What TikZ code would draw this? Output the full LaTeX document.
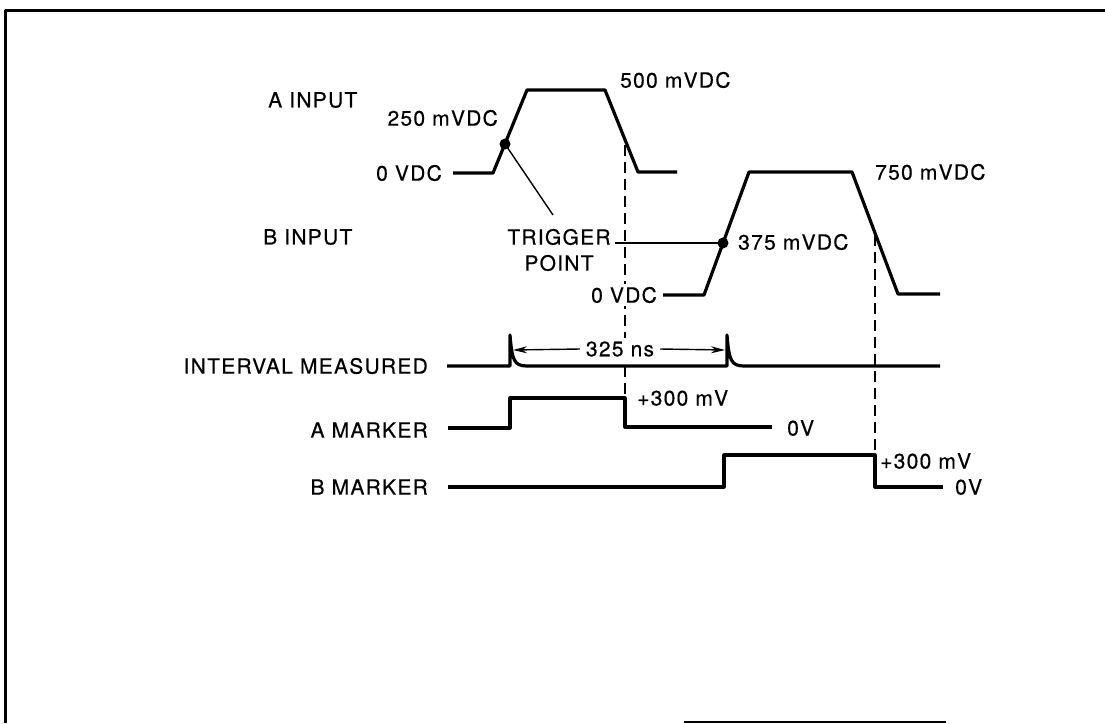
\documentclass[tikz,border=0pt]{standalone}
\usepackage{fontspec}
\setmainfont{TeX Gyre Heros}[LetterSpace=6,FakeBold=0.5]
\usetikzlibrary{arrows.meta}
\tikzset{
	wave/.style={line width=3.2pt},
	lead/.style={line width=1.4pt},
	timing/.style={line width=1.7pt,dash pattern=on 11pt off 6pt},
	lbl/.style={inner sep=0pt}
}
\begin{document}
\begin{tikzpicture}[x=1pt,y=-1pt,line join=round,>={Stealth[length=14pt,width=7pt]},font=\fontsize{21}{26}\selectfont]
	\useasboundingbox (0,0) rectangle (1105,723);
	% frame
	\draw[line width=3pt] (1105,10)--(5,10)--(5,723);
	\draw[line width=2pt] (684,722)--(946,722);
	% A input
	\coordinate (a0) at (453,173);
	\coordinate (a1) at (493,173);
	\coordinate (a2) at (527,90);
	\coordinate (a3) at (605,90);
	\coordinate (a4) at (638,172);
	\coordinate (a5) at (677,172);
	\coordinate (trgA) at (505,144);
	\coordinate (dA) at (625,145);
	\draw[wave] (a0)--(a1)--(a2)--(a3)--(a4)--(a5);
	\node[lbl,anchor=west] (ainput) at (268,100) {A INPUT};
	\node[lbl,anchor=east] (a250) at (498,118) {250 mVDC};
	\node[lbl,anchor=east] (azero) at (442,173) {0 VDC};
	\node[lbl,anchor=west] (a500) at (620,80) {500 mVDC};
	% B input
	\coordinate (b0) at (663,295);
	\coordinate (b1) at (704,295);
	\coordinate (b2) at (749,172);
	\coordinate (b3) at (852,172);
	\coordinate (b4) at (898,294);
	\coordinate (b5) at (940,294);
	\coordinate (trgB) at (723,243);
	\coordinate (dB) at (875,235);
	\draw[wave] (b0)--(b1)--(b2)--(b3)--(b4)--(b5);
	\node[lbl,anchor=west] (binput) at (263,237) {B INPUT};
	\node[lbl,anchor=west] (b375) at (738,242) {375 mVDC};
	\node[lbl,anchor=west] (b750) at (875,172) {750 mVDC};
	% trigger point
	\node[lbl,align=center] (trig) at (559,250) {TRIGGER\\POINT};
	\coordinate (trgend) at (553,215);
	\coordinate (bline) at (615,243);
	\draw[lead] (trgA)--(trgend);
	\draw[lead] (bline)--(trgB);
	\foreach \p in {trgA,trgB}
	\fill (\p) circle (5.5pt);
	% A marker
	\coordinate (m0) at (448,428);
	\coordinate (m1) at (510,428);
	\coordinate (m2) at (510,398);
	\coordinate (m3) at (625,398);
	\coordinate (m4) at (625,427);
	\coordinate (m5) at (772,427);
	\draw[wave] (m0)--(m1)--(m2)--(m3)--(m4)--(m5);
	\node[lbl,anchor=east] (amark) at (428,430) {A MARKER};
	\node[lbl,anchor=west] (ahigh) at (637,398) {+300 mV};
	\node[lbl,anchor=west] (alow) at (787,428) {0V};
	% B marker
	\coordinate (n0) at (448,487);
	\coordinate (n1) at (724,487);
	\coordinate (n2) at (724,455);
	\coordinate (n3) at (875,455);
	\coordinate (n4) at (875,487);
	\coordinate (n5) at (943,487);
	\draw[wave] (n0)--(n1)--(n2)--(n3)--(n4)--(n5);
	\node[lbl,anchor=east] (bmark) at (428,487) {B MARKER};
	\node[lbl,anchor=west] (bhigh) at (880,461) {+300 mV};
	\node[lbl,anchor=west] (blow) at (955,487) {0V};
	% timing lines
	\draw[timing] (dA)--(m3);
	\draw[timing] (dB)--(n3);
	\node[lbl,anchor=east,inner xsep=2pt,inner ysep=3pt,fill=white] (bzero) at (659,295) {0 VDC};
	% interval measured
	\coordinate (s1) at (510,335);
	\coordinate (s2) at (727,335);
	\draw[wave] (447,366)--(510,366)--(s1) .. controls (512,360) and (514,366) .. (527,366)
	--(727,366)--(s2) .. controls (729,360) and (731,366) .. (744,366)--(940,366);
	\node[lbl,anchor=east] (interval) at (428,366) {INTERVAL MEASURED};
	\node[lbl,inner xsep=6pt,inner ysep=3pt,fill=white] (ns) at (620,349) {325 ns};
	\coordinate (tipL) at (513,350);
	\coordinate (tipR) at (725,350);
	\draw[lead,->] (ns.west)--(tipL);
	\draw[lead,->] (ns.east)--(tipR);
\end{tikzpicture}
\end{document}
